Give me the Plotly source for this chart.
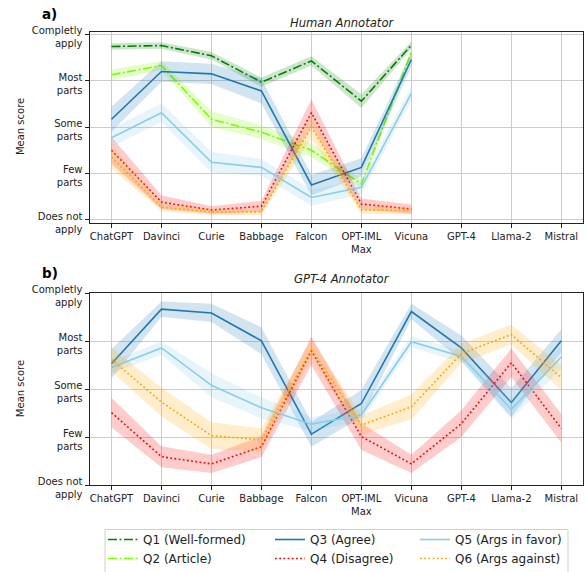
import plotly.graph_objects as go

W, H = 586, 572

models = ["ChatGPT", "Davinci", "Curie", "Babbage", "Falcon", "OPT-IML<br>Max",
          "Vicuna", "GPT-4", "Llama-2", "Mistral"]
score_labels = ["Does not<br>apply", "Few<br>parts", "Some<br>parts", "Most<br>parts", "Completly<br>apply"]
score_vals = [1, 2, 3, 4, 5]

series_names = ["Q1 (Well-formed)", "Q2 (Article)", "Q3 (Agree)",
                "Q4 (Disagree)", "Q5 (Args in favor)", "Q6 (Args against)"]

# Human annotator (first 7 models)
human_q1 = [4.74, 4.76, 4.54, 3.97, 4.43, 3.56, 4.77]
human_q2 = [4.13, 4.33, 3.17, 2.89, 2.50, 1.77, 4.62]
human_q3 = [3.17, 4.20, 4.15, 3.78, 1.75, 2.13, 4.46]
human_q4 = [2.50, 1.38, 1.21, 1.29, 3.31, 1.34, 1.23]
human_q5 = [2.77, 3.31, 2.24, 2.13, 1.48, 1.70, 3.73]
human_q6 = [2.35, 1.27, 1.17, 1.17, 3.00, 1.21, 1.20]

human_q1_ci = [0.07, 0.07, 0.08, 0.10, 0.10, 0.15, 0.08]
human_q2_ci = [0.12, 0.10, 0.17, 0.15, 0.15, 0.10, 0.10]
human_q3_ci = [0.27, 0.22, 0.22, 0.27, 0.22, 0.20, 0.15]
human_q4_ci = [0.29, 0.15, 0.08, 0.12, 0.29, 0.12, 0.10]
human_q5_ci = [0.20, 0.20, 0.22, 0.18, 0.18, 0.15, 0.15]
human_q6_ci = [0.25, 0.08, 0.07, 0.07, 0.25, 0.08, 0.08]

# GPT-4 annotator (all 10 models)
gpt_q3 = [3.53, 4.67, 4.59, 4.01, 2.06, 2.70, 4.62, 3.86, 2.72, 4.01]
gpt_q4 = [2.51, 1.59, 1.44, 1.80, 3.80, 2.01, 1.44, 2.28, 3.55, 2.18]
gpt_q5 = [3.45, 3.86, 3.08, 2.61, 2.27, 2.46, 3.99, 3.68, 2.58, 3.67]
gpt_q6 = [3.62, 2.73, 2.03, 1.94, 3.84, 2.25, 2.63, 3.74, 4.14, 3.24]

gpt_q3_ci = [0.31, 0.16, 0.19, 0.28, 0.26, 0.28, 0.16, 0.26, 0.30, 0.24]
gpt_q4_ci = [0.31, 0.22, 0.19, 0.22, 0.30, 0.28, 0.19, 0.28, 0.30, 0.30]
gpt_q5_ci = [0.12, 0.14, 0.25, 0.22, 0.15, 0.12, 0.12, 0.12, 0.20, 0.25]
gpt_q6_ci = [0.25, 0.30, 0.28, 0.24, 0.20, 0.20, 0.26, 0.20, 0.21, 0.26]

colors = ["#008000", "#7CFC00", "#1f77b4", "#FF0000", "#87CEEB", "#FFA500"]
dashes = ["9px,2.5px,2px,2.5px", "9px,2.5px,2px,2.5px", "solid",
          "1.8px,2.4px", "solid", "1.8px,2.4px"]


def rgba(hexc, a):
    h = hexc.lstrip("#")
    r, g, b = int(h[0:2], 16), int(h[2:4], 16), int(h[4:6], 16)
    return f"rgba({r},{g},{b},{a})"


fig = go.Figure()

legend_of = {0: "legend", 1: "legend", 2: "legend2", 3: "legend2", 4: "legend3", 5: "legend3"}


def add_series(idx, vals, ci, xa, ya, showlegend):
    xs = list(range(len(vals)))
    lo = [v - c for v, c in zip(vals, ci)]
    hi = [v + c for v, c in zip(vals, ci)]
    fig.add_trace(go.Scatter(
        x=xs + xs[::-1], y=hi + lo[::-1], fill="toself",
        fillcolor=rgba(colors[idx], 0.2), line=dict(width=0),
        mode="lines", hoverinfo="skip", showlegend=False,
        xaxis=xa, yaxis=ya))
    fig.add_trace(go.Scatter(
        x=xs, y=vals, mode="lines", name=series_names[idx],
        line=dict(color=colors[idx], width=1.6, dash=dashes[idx]),
        showlegend=showlegend, legend=legend_of[idx],
        xaxis=xa, yaxis=ya))


human = [(human_q1, human_q1_ci), (human_q2, human_q2_ci), (human_q3, human_q3_ci),
         (human_q4, human_q4_ci), (human_q5, human_q5_ci), (human_q6, human_q6_ci)]
for i, (v, c) in enumerate(human):
    add_series(i, v, c, "x", "y", True)

gpt = [(2, gpt_q3, gpt_q3_ci), (3, gpt_q4, gpt_q4_ci), (4, gpt_q5, gpt_q5_ci), (5, gpt_q6, gpt_q6_ci)]
for i, v, c in gpt:
    add_series(i, v, c, "x2", "y2", False)

FONT = "DejaVu Sans"
x0, x1 = 89.5 / W, 583.3 / W
top_dom = [1 - 222.5 / H, 1 - 31.7 / H]
bot_dom = [1 - 485.0 / H, 1 - 293.3 / H]

xaxis_common = dict(
    tickmode="array", tickvals=list(range(len(models))), ticktext=models,
    range=[-0.44, 9.44], showgrid=True, gridcolor="#cccccc", gridwidth=1,
    showline=True, linecolor="#222", linewidth=1, mirror=True,
    ticks="outside", ticklen=4, tickcolor="#222", zeroline=False,
    tickfont=dict(family=FONT, size=10, color="#222"), automargin=False,
)
yaxis_common = dict(
    tickmode="array", tickvals=score_vals, ticktext=score_labels,
    showgrid=True, gridcolor="#cccccc", gridwidth=1,
    showline=True, linecolor="#222", linewidth=1, mirror=True,
    ticks="outside", ticklen=4, tickcolor="#222", zeroline=False,
    tickfont=dict(family=FONT, size=10, color="#222"), automargin=False,
    ticklabelshift=3,
)

fig.update_layout(
    width=W, height=H,
    margin=dict(l=0, r=0, t=0, b=0, autoexpand=False),
    plot_bgcolor="white", paper_bgcolor="white",
    xaxis=dict(domain=[x0, x1], anchor="y", **xaxis_common),
    yaxis=dict(domain=top_dom, anchor="x", range=[0.94, 5.06], **yaxis_common),
    xaxis2=dict(domain=[x0, x1], anchor="y2", **xaxis_common),
    yaxis2=dict(domain=bot_dom, anchor="x2", range=[1.0, 5.0], **yaxis_common),
    font=dict(family=FONT, color="#222"),
)

leg_common = dict(orientation="v", xanchor="left", yanchor="top",
                  bgcolor="rgba(0,0,0,0)", borderwidth=0,
                  font=dict(family=FONT, size=12, color="#222"),
                  tracegroupgap=0, itemwidth=30)
fig.update_layout(
    legend=dict(x=103 / W, y=1 - 525 / H, **leg_common),
    legend2=dict(x=270 / W, y=1 - 525 / H, **leg_common),
    legend3=dict(x=415 / W, y=1 - 525 / H, **leg_common),
)

# legend frame
fig.add_shape(type="rect", xref="paper", yref="paper",
              x0=105 / W, x1=568 / W, y0=-0.02, y1=1 - 529.5 / H,
              line=dict(color="#d0d0d0", width=1), fillcolor="rgba(255,255,255,0.8)",
              layer="below")

# y-axis titles
for yc in [(31.7 + 222.5) / 2, (293.3 + 485.0) / 2]:
    fig.add_annotation(text="Mean score", xref="paper", yref="paper",
                       x=20 / W, y=1 - yc / H, showarrow=False, textangle=-90,
                       font=dict(family=FONT, size=10, color="#222"),
                       xanchor="center", yanchor="middle")

# titles and panel labels
fig.add_annotation(text="<i>Human Annotator</i>", xref="paper", yref="paper",
                   x=342 / W, y=1 - 22.5 / H, showarrow=False,
                   font=dict(family=FONT, size=11.6, color="#222"), xanchor="center", yanchor="middle")
fig.add_annotation(text="<i>GPT-4 Annotator</i>", xref="paper", yref="paper",
                   x=342 / W, y=1 - 278.5 / H, showarrow=False,
                   font=dict(family=FONT, size=11.6, color="#222"), xanchor="center", yanchor="middle")
fig.add_annotation(text="<b>a)</b>", xref="paper", yref="paper",
                   x=40 / W, y=1 - 14 / H, showarrow=False,
                   font=dict(family=FONT, size=13.5, color="#000"), xanchor="left", yanchor="middle")
fig.add_annotation(text="<b>b)</b>", xref="paper", yref="paper",
                   x=40 / W, y=1 - 273 / H, showarrow=False,
                   font=dict(family=FONT, size=13.5, color="#000"), xanchor="left", yanchor="middle")

fig.write_html("out.html", config={"displayModeBar": False},
               post_script="document.body.style.margin='0px';document.body.style.overflow='hidden';")
